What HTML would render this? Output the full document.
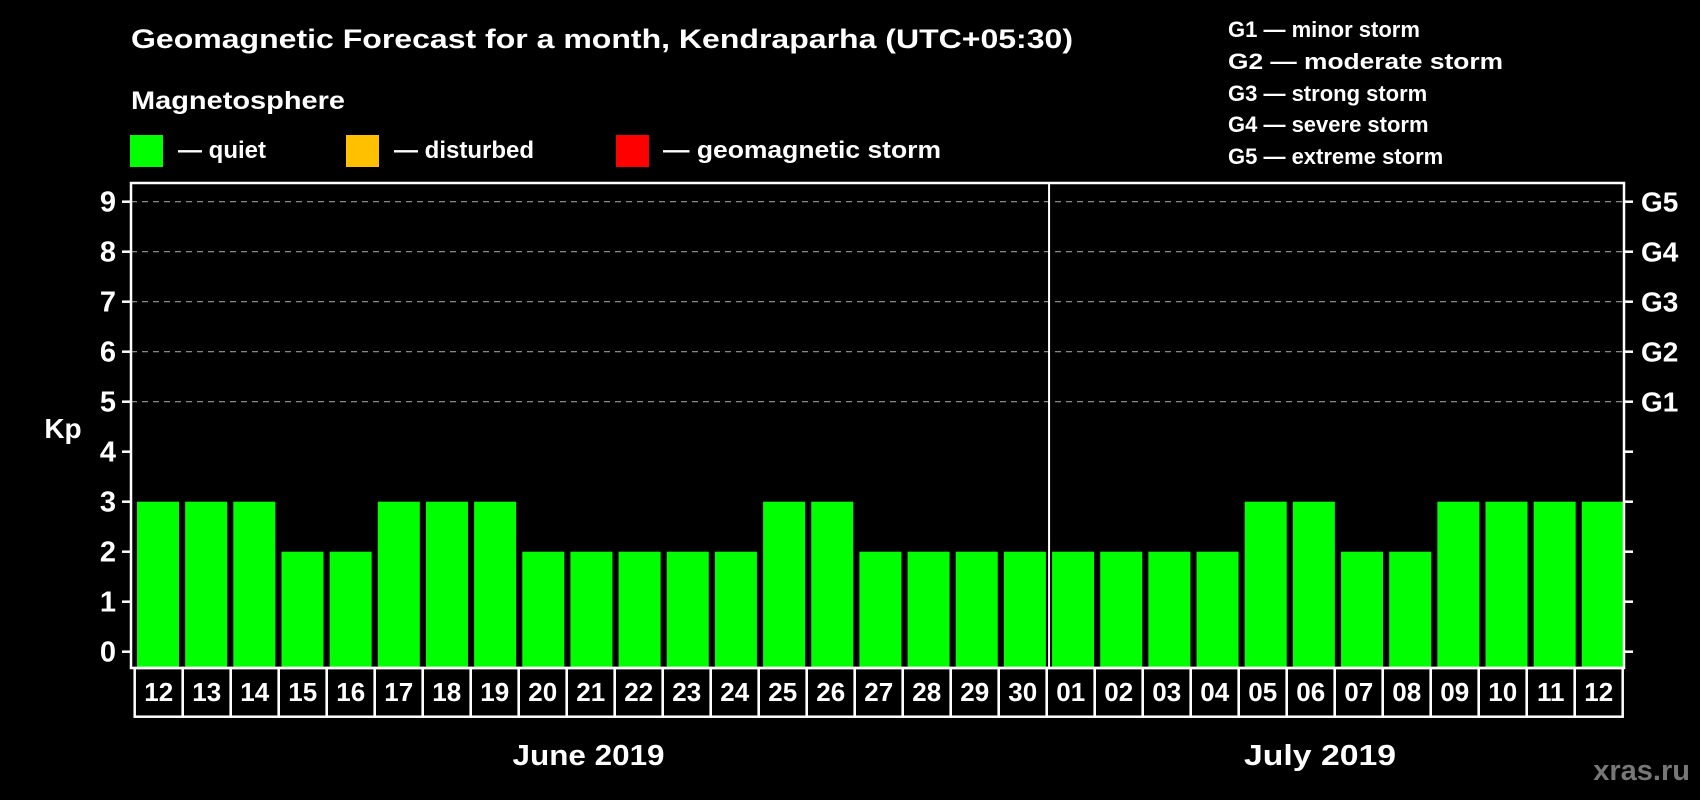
<!DOCTYPE html>
<html><head><meta charset="utf-8"><style>
html,body{margin:0;padding:0;background:#000;}
svg{display:block;font-family:"Liberation Sans",Arial,sans-serif;font-weight:bold;}
</style></head><body>
<svg id="chart" width="1700" height="800" viewBox="0 0 1700 800" xmlns="http://www.w3.org/2000/svg">
<rect width="1700" height="800" fill="#000"/>
<text x="131" y="48" fill="#fff" font-size="27" textLength="942" lengthAdjust="spacingAndGlyphs">Geomagnetic Forecast for a month, Kendraparha (UTC+05:30)</text>
<text x="131" y="109" fill="#fff" font-size="25" textLength="214" lengthAdjust="spacingAndGlyphs">Magnetosphere</text>
<g>
<rect x="130" y="135" width="33" height="32" fill="#00ff00"/>
<text x="178" y="158" fill="#fff" font-size="24">— quiet</text></g>
<g>
<rect x="346" y="135" width="33" height="32" fill="#ffc000"/>
<text x="394" y="158" fill="#fff" font-size="24">— disturbed</text></g>
<g>
<rect x="616" y="135" width="33" height="32" fill="#ff0000"/>
<text x="663" y="158" fill="#fff" font-size="24" textLength="278" lengthAdjust="spacingAndGlyphs">— geomagnetic storm</text></g>
<g fill="#fff" font-size="22">
<text x="1228" y="37">G1 — minor storm</text>
<text x="1228" y="69" textLength="275" lengthAdjust="spacingAndGlyphs">G2 — moderate storm</text>
<text x="1228" y="101">G3 — strong storm</text>
<text x="1228" y="132">G4 — severe storm</text>
<text x="1228" y="164">G5 — extreme storm</text>
</g>
<text x="63" y="438" fill="#fff" font-size="28" text-anchor="middle">Kp</text>
<text x="782" y="0" fill="#777" font-size="1" visibility="hidden"> </text>
<text x="1690" y="780" fill="#777" font-size="29" text-anchor="end">xras.ru</text>
<g id="plot"></g>
</svg>
<script>
const days = ["12","13","14","15","16","17","18","19","20","21","22","23","24","25","26","27","28","29","30","01","02","03","04","05","06","07","08","09","10","11","12"];
const kpValues = [3,3,3,2,2,3,3,3,2,2,2,2,2,3,3,2,2,2,2,2,2,2,2,3,3,2,2,3,3,3,3];
const yTicks = [0,1,2,3,4,5,6,7,8,9];
const gLabels = ["G1","G2","G3","G4","G5"];
const gLevels = [5,6,7,8,9];
const months = ["June 2019","July 2019"];
const monthStartIdx = [0,19];

const NS="http://www.w3.org/2000/svg";
const plot=document.getElementById('plot');
const L=131,R=1624,T=183,B=668,Y0=651.7,UNIT=50;
const band=(R-L)/days.length;
const yS=v=>Y0-v*UNIT;
const xS=i=>L+i*band;
function mk(tag,attrs,parent){const e=document.createElementNS(NS,tag);for(const k in attrs)e.setAttribute(k,attrs[k]);(parent||plot).appendChild(e);return e;}

// grid
gLevels.forEach(v=>{
  const g=mk('line',{x1:L,x2:R,y1:yS(v),y2:yS(v),stroke:'#999','stroke-width':1.2,'stroke-dasharray':'6,5'});
  
  
});
// bars
kpValues.forEach((v,i)=>{
  const col=v>=5?'#ff0000':(v>=4?'#ffc000':'#00ff00');
  const b=mk('rect',{x:xS(i)+6,y:yS(v),width:42,height:B-yS(v),fill:col});
  
  
});
// frame
const fr=mk('rect',{x:L,y:T,width:R-L,height:B-T,fill:'none',stroke:'#fff','stroke-width':2.5});


// month separator
monthStartIdx.slice(1).forEach(idx=>{
  const s=mk('line',{x1:xS(idx)+3,x2:xS(idx)+3,y1:T,y2:B,stroke:'#fff','stroke-width':2});
  
  
});
// y ticks
yTicks.forEach(v=>{
  const t=mk('line',{x1:L-9,x2:L,y1:yS(v),y2:yS(v),stroke:'#fff','stroke-width':2.5});
  
  
  const t2=mk('line',{x1:R,x2:R+9,y1:yS(v),y2:yS(v),stroke:'#fff','stroke-width':2.5});
  
  
  const l=mk('text',{x:116,y:yS(v)+10,fill:'#fff','font-size':29,'text-anchor':'end'});
  l.textContent=v;
  
  
});
gLabels.forEach((g,i)=>{
  const l=mk('text',{x:1641,y:yS(gLevels[i])+10,fill:'#fff','font-size':28});
  l.textContent=g;
  
  
});
// date boxes
const BX=134.7,BW=48.0,BT=668,BB=716.7;
days.forEach((d,i)=>{
  const r=mk('rect',{x:BX+i*BW,y:BT,width:BW,height:BB-BT,fill:'none',stroke:'#fff','stroke-width':2.5});
  
  
  const t=mk('text',{x:BX+i*BW+BW/2,y:701,fill:'#fff','font-size':26,'text-anchor':'middle'});
  t.textContent=d;
  
  
});
// month labels
months.forEach((m,k)=>{
  const s=monthStartIdx[k], e=(k+1<monthStartIdx.length?monthStartIdx[k+1]:days.length);
  const cx=(xS(s)+xS(e))/2 + (k===0?0:-15);
  const t=mk('text',{x:cx,y:765,fill:'#fff','font-size':29,'text-anchor':'middle',textLength:152,lengthAdjust:'spacingAndGlyphs'});
  t.textContent=m;
  
  
});
</script>
</body></html>
